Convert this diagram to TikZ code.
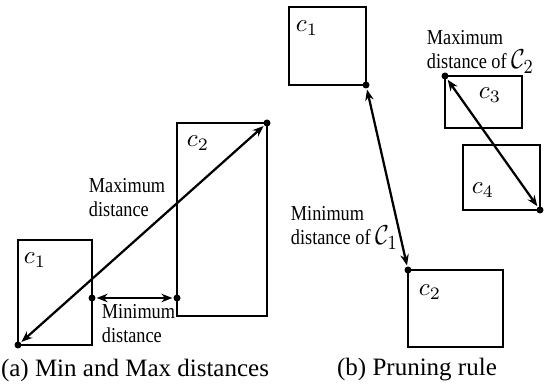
\documentclass[tikz,border=0pt]{standalone}
\usepackage{fontspec}
\setmainfont{Liberation Serif}
\usetikzlibrary{arrows.meta}

\newcommand{\bigC}[1]{{\fontsize{11}{9.6}\selectfont$\mathcal{C}_#1$}}

\begin{document}
\begin{tikzpicture}[x=0.4pt, y=-0.4pt, line width=0.9pt,
  dist/.style={{Stealth[length=4.4pt,width=3.4pt]}-{Stealth[length=4.4pt,width=3.4pt]}},
  pt/.style={circle, fill, inner sep=0pt, minimum size=2.8pt},
  lbl/.style={font=\fontsize{8.5}{9.6}\selectfont, align=left, anchor=west,
    inner sep=0pt, xscale=0.86, transform shape},
  cname/.style={inner sep=0pt}]
  \useasboundingbox (0,0) rectangle (545,390);

  % (a) Min and Max distances
  \draw (18,240) rectangle (92,345);
  \draw (177,123) rectangle (267,316);
  \node[cname] (ac1) at (35,260) {$c_1$};
  \node[cname] (ac2) at (198,143) {$c_2$};

  \node[pt] (amax1) at (18,345) {};
  \node[pt] (amax2) at (267,123) {};
  \node[pt] (amin1) at (92,298) {};
  \node[pt] (amin2) at (177,298) {};
  \draw[dist] (amax1) -- (amax2);
  \draw[dist] (amin1) -- (amin2);

  \node[lbl] (amaxl) at (88,198) {Maximum\\distance};
  \node[lbl] (aminl) at (101,324) {Minimum\\distance};
  \node (acap) at (135,370) {(a) Min and Max distances};

  % (b) Pruning rule
  \draw (289,7) rectangle (366,85);
  \draw (408,270) rectangle (503,347);
  \draw (445,76) rectangle (522,128);
  \draw (463,145) rectangle (540,210);
  \node[cname] (bc1) at (307,28) {$c_1$};
  \node[cname] (bc2) at (430,292) {$c_2$};
  \node[cname] (bc3) at (490,95) {$c_3$};
  \node[cname] (bc4) at (483,190) {$c_4$};

  \node[pt] (bmin1) at (366,85) {};
  \node[pt] (bmin2) at (408,270) {};
  \node[pt] (bmax1) at (445,76) {};
  \node[pt] (bmax2) at (540,210) {};
  \draw[dist] (bmin1) -- (bmin2);
  \draw[dist] (bmax1) -- (bmax2);

  \node[lbl] (bmaxl) at (426,52) {Maximum\\distance of \bigC{2}};
  \node[lbl] (bminl) at (290,228) {Minimum\\distance of \bigC{1}};
  \node (bcap) at (417,370) {(b) Pruning rule};
\end{tikzpicture}
\end{document}
